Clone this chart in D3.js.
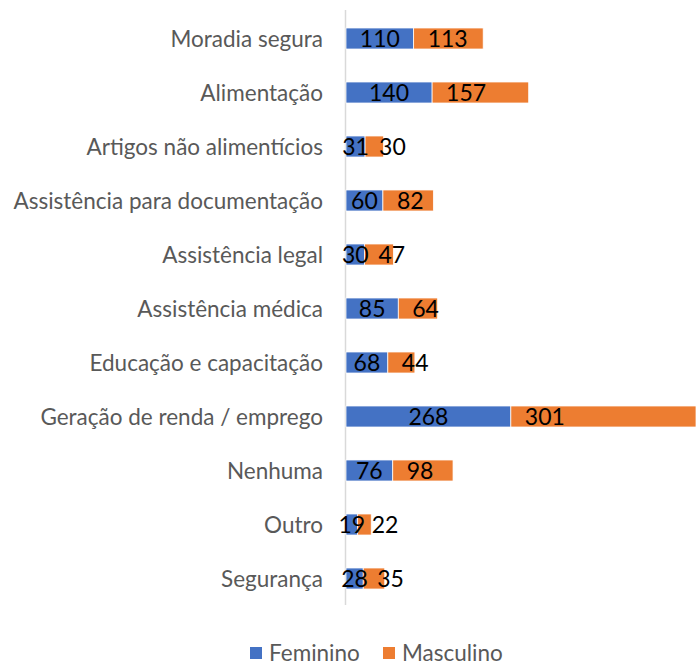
<!DOCTYPE html>
<html>
<head>
<meta charset="utf-8">
<script src="https://cdn.jsdelivr.net/npm/d3@7"></script>
<style>
  body { margin: 0; background: #fff; }
  svg { font-family: Lato, "Open Sans", sans-serif; }
</style>
</head>
<body>
<svg id="chart" width="700" height="666"></svg>
<script>
const categories = ["Moradia segura", "Alimentação", "Artigos não alimentícios", "Assistência para documentação",
  "Assistência legal", "Assistência médica", "Educação e capacitação", "Geração de renda / emprego",
  "Nenhuma", "Outro", "Segurança"];
const feminino = [110, 140, 31, 60, 30, 85, 68, 268, 76, 19, 28];
const masculino = [113, 157, 30, 82, 47, 64, 44, 301, 98, 22, 35];
const seriesNames = ["Feminino", "Masculino"];
const seriesColors = ["#4472C4", "#ED7D31"];

const svg = d3.select("#chart");

let rows = categories.map((c, i) => ({cat: c, Feminino: feminino[i], Masculino: masculino[i]}));
let stacked = d3.stack().keys(seriesNames)(rows);

let x = d3.scaleLinear()
  .domain([0, d3.max(rows, d => d.Feminino + d.Masculino)])
  .range([346, 696]);

let y = d3.scaleBand()
  .domain(categories)
  .range([11.5, 605.5])
  .paddingInner(0.611)
  .paddingOuter(0.3055);

// category axis line
svg.append("line")
  .attr("x1", 345.5).attr("x2", 345.5)
  .attr("y1", 10).attr("y2", 605)
  .attr("stroke", "#d9d9d9").attr("stroke-width", 1.5);

// bars
svg.append("g")
  .selectAll("g")
  .data(stacked)
  .join("g")
  .attr("fill", (d, i) => seriesColors[i])
  .selectAll("rect")
  .data(d => d)
  .join("rect")
  .attr("x", d => x(d[0]))
  .attr("y", d => y(d.data.cat))
  .attr("width", d => x(d[1]) - x(d[0]))
  .attr("height", y.bandwidth())
  .attr("stroke", "#fff")
  .attr("stroke-width", 0.75);

// data labels drawn over all bars: blue centred, orange near segment base
svg.append("g")
  .selectAll("g")
  .data(stacked)
  .join("g")
  .selectAll("text")
  .data((d, i) => d.map(v => ({v, s: i})))
  .join("text")
  .attr("x", d => d.s === 0 ? (x(d.v[0]) + x(d.v[1])) / 2 : x(d.v[0]) + 14)
  .attr("y", d => y(d.v.data.cat) + y.bandwidth() / 2)
  .attr("dy", "0.36em")
  .attr("text-anchor", d => d.s === 0 ? "middle" : "start")
  .attr("fill", "#000")
  .style("font-size", "23px")
  .text(d => d.v[1] - d.v[0]);

// category labels
svg.append("g")
  .selectAll("text")
  .data(categories)
  .join("text")
  .attr("x", 323)
  .attr("y", d => y(d) + y.bandwidth() / 2)
  .attr("dy", "0.36em")
  .attr("text-anchor", "end")
  .attr("fill", "#595959")
  .style("font-size", "22.5px")
  .text(d => d);

// legend
const legendX = [250, 383];
const legend = svg.append("g")
  .selectAll("g")
  .data(seriesNames)
  .join("g")
  .attr("transform", (d, i) => `translate(${legendX[i]},647)`);
legend.append("rect")
  .attr("width", 12).attr("height", 12)
  .attr("fill", (d, i) => seriesColors[i]);
legend.append("text")
  .attr("x", 19).attr("y", 5.5)
  .attr("dy", "0.36em")
  .attr("fill", "#595959")
  .style("font-size", "22.5px")
  .text(d => d);
</script>
</body>
</html>
